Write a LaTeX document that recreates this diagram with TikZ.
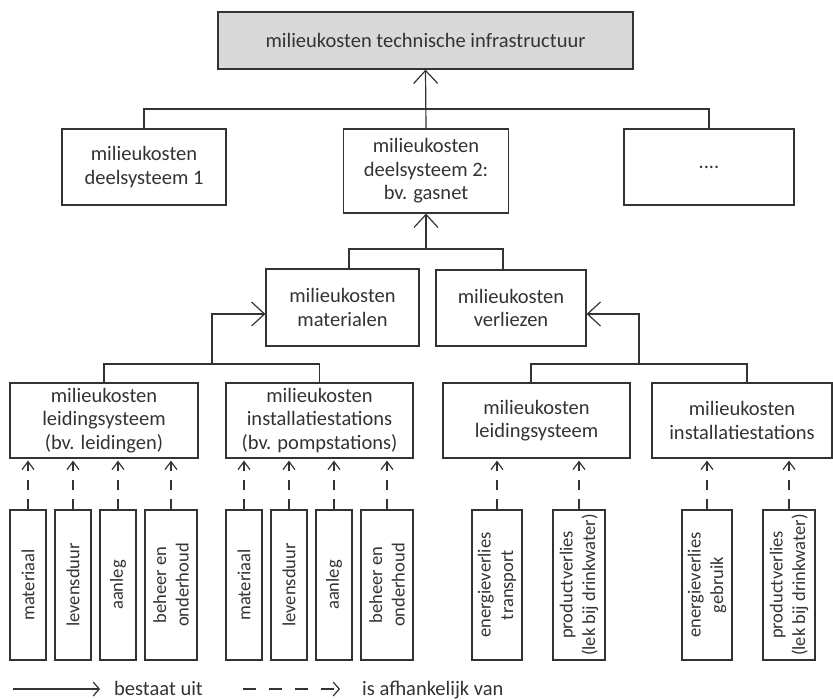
\documentclass[tikz,border=0pt]{standalone}
\usepackage{fontspec}
\setmainfont{Carlito}
\usetikzlibrary{arrows.meta}
\definecolor{ink}{HTML}{333333}
\definecolor{headfill}{HTML}{D9D9D9}

\begin{document}
\begin{tikzpicture}[x=1pt,y=-1pt,
  every node/.style={font=\fontsize{20.5}{23.5}\selectfont, text=ink},
  box/.style={draw=ink, line width=1.2pt, align=center, inner sep=0pt},
  tallbox/.style={draw=ink, line width=1.2pt, inner sep=0pt, minimum height=150pt},
  vtext/.style={rotate=90, align=center, font=\fontsize{18.5}{22.5}\selectfont},
  keytext/.style={anchor=base west, inner sep=0pt},
  link/.style={draw=ink, line width=1.2pt},
  has/.style={link, -{Straight Barb[length=13pt,width=24pt]}},
  dep/.style={link, dash pattern=on 10pt off 9pt, shorten >=2pt,
    -{Straight Barb[length=8pt,width=12pt]}}
]
\useasboundingbox (0,0) rectangle (833,700);

% level 0
\node[box, fill=headfill, minimum width=415pt, minimum height=57pt] (top) at (425.5,40.5)
  {milieukosten technische infrastructuur};

% level 1: subsystems
\node[box, minimum width=164pt, minimum height=76pt] (d1) at (144,167)
  {milieukosten\\deelsysteem 1};
\node[box, minimum width=165pt, minimum height=84pt] (d2) at (426,171)
  {milieukosten\\deelsysteem 2:\\bv. gasnet};
\node[box, minimum width=170pt, minimum height=76pt] (d3) at (709,167) {....};

\coordinate (j0) at (426,109);
\draw[link] (d1.north) |- (j0) -| (d3.north);
\draw[has] (d2.north) -- (top.south);

% level 2
\node[box, minimum width=153pt, minimum height=77pt] (mat) at (342.5,307.5)
  {milieukosten\\materialen};
\node[box, minimum width=150pt, minimum height=76pt] (ver) at (511,308)
  {milieukosten\\verliezen};

\coordinate (j1) at (426,249);
\coordinate (matin) at (349,269);
\coordinate (verin) at (503,270);
\draw[link] (matin) |- (j1) -| (verin);
\draw[has] (j1) -- (d2.south);

% level 3
\node[box, minimum width=188pt, minimum height=75pt] (lA) at (104,420.5)
  {milieukosten\\leidingsysteem\\(bv. leidingen)};
\node[box, minimum width=187pt, minimum height=75pt] (lB) at (319.5,420.5)
  {milieukosten\\installatiestations\\(bv. pompstations)};
\node[box, minimum width=187pt, minimum height=75pt] (rA) at (536.5,420.5)
  {milieukosten\\leidingsysteem};
\node[box, minimum width=180pt, minimum height=75pt] (rB) at (742,420.5)
  {milieukosten\\installatiestations};

\coordinate (kA) at (212,364);
\coordinate (kB) at (639,364);
\draw[link] (lA.north) |- (kA) -| (lB.north);
\draw[has] (kA) |- (mat.west |- 0,314);
\draw[link] (531,383) |- (kB) -| (747,383);
\draw[has] (kB) |- (ver.east |- 0,314);

% level 4: factors
\foreach \n/\x/\w/\t/\p in {
  a1/28/36/materiaal/lA, a2/73/36/levensduur/lA, a3/118/36/aanleg/lA,
  a4/171/52/{beheer en\\onderhoud}/lA,
  b1/244/36/materiaal/lB, b2/289/36/levensduur/lB, b3/334/36/aanleg/lB,
  b4/387/52/{beheer en\\onderhoud}/lB,
  c1/497/50/{energieverlies\\transport}/rA,
  c2/579/52/{productverlies\\(lek bij drinkwater)}/rA,
  c3/707/50/{energieverlies\\gebruik}/rB,
  c4/789/52/{productverlies\\(lek bij drinkwater)}/rB} {
  \node[tallbox, minimum width=\w pt] (\n) at (\x,585) {};
  \node[vtext] (\n t) at (\n) {\t};
  \draw[dep] (\n.north) -- (\n.north |- \p.south);
}

% legend
\coordinate (ls1) at (13,689);
\coordinate (le1) at (100,689);
\draw[link, -{Straight Barb[length=6pt,width=14pt]}] (ls1) -- (le1);
\node[keytext] (lt1) at (114,695) {bestaat uit};
\coordinate (ls2) at (243,689);
\coordinate (le2) at (340,689);
\draw[link, dash pattern=on 13pt off 13pt, -{Straight Barb[length=6pt,width=14pt]}] (ls2) -- (le2);
\node[keytext] (lt2) at (362,695) {is afhankelijk van};
\end{tikzpicture}
\end{document}
